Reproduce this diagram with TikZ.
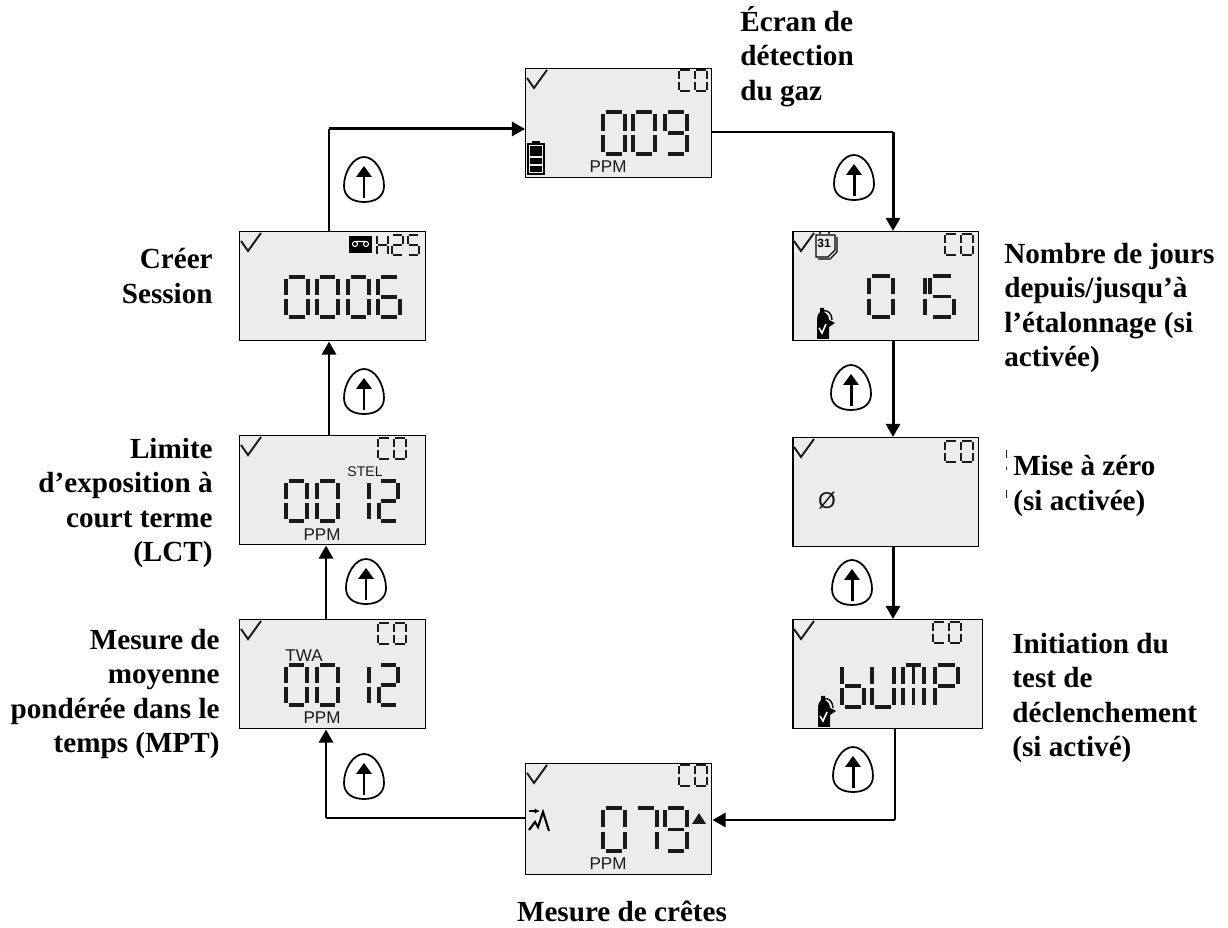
\documentclass[tikz,border=0pt]{standalone}
\usepackage{fontspec}
\setmainfont{Liberation Serif}
\newfontfamily\lcdfont{Liberation Sans}
\usetikzlibrary{arrows.meta}
\definecolor{lcdgray}{HTML}{ECECEC}
\definecolor{lcdink}{HTML}{1A1A1A}

% segments of one LCD character, in a unit square
\newcommand{\sega}{\draw[lcdseg] (.12,0) -- (.88,0);}
\newcommand{\segb}{\draw[lcdseg] (1,.05) -- (1,.45);}
\newcommand{\segc}{\draw[lcdseg] (1,.55) -- (1,.95);}
\newcommand{\segd}{\draw[lcdseg] (.12,1) -- (.88,1);}
\newcommand{\sege}{\draw[lcdseg] (0,.55) -- (0,.95);}
\newcommand{\segf}{\draw[lcdseg] (0,.05) -- (0,.45);}
\newcommand{\segg}{\draw[lcdseg] (.12,.5) -- (.88,.5);}
\newcommand{\segm}{\draw[lcdseg] (.5,.05) -- (.5,.45);}
\newcommand{\segn}{\draw[lcdseg] (.5,.55) -- (.5,.95);}
\newcommand{\digzero}{a,b,c,d,e,f}
\newcommand{\digone}{b,c}
\newcommand{\digtwo}{a,b,g,e,d}
\newcommand{\digfive}{a,f,g,c,d}
\newcommand{\digsix}{a,f,g,c,d,e}
\newcommand{\digseven}{a,b,c}
\newcommand{\dignine}{a,b,c,d,f,g}
\newcommand{\digC}{a,d,e,f}
\newcommand{\digH}{b,c,e,f,g}
\newcommand{\digb}{c,d,e,f,g}
\newcommand{\digU}{b,c,d,e,f}
\newcommand{\digM}{a,b,c,e,f,m,n}
\newcommand{\digP}{a,b,e,f,g}
% [line width] x, y, width, height, segment list
\newcommand{\lcd}[6][1.9pt]{
	\begin{scope}[shift={(#2,#3)}, xscale=#4, yscale=#5, line width=#1]
		\foreach \s in #6 {\csname seg\s\endcsname}
	\end{scope}
}
\newcommand{\lcdCO}[2]{
	\lcd[1pt]{#1}{#2}{12}{21}{\digC}
	\lcd[1pt]{#1+16}{#2}{12}{21}{\digzero}
}

\tikzset{
	lcdseg/.style={draw=lcdink, line cap=butt},
	lcdbox/.style={draw=black, fill=lcdgray, line width=0.85pt, anchor=north west, inner sep=0pt, minimum width=3.72cm, minimum height=2.18cm},
	lcdtext/.style={font=\lcdfont\fontsize{9.7}{11}\selectfont, text=lcdink, inner sep=0pt},
	caption/.style={font=\fontsize{16.6}{19.5}\selectfont\bfseries, inner sep=0pt},
	wirethin/.style={draw=black, line width=0.85pt},
	wirethick/.style={draw=black, line width=1.7pt},
	tip/.style={-{Triangle[length=7.5pt,width=8pt]}},
	tick/.pic={\draw[line width=1.1pt, lcdink] (2,10) -- (9,20) -- (22,2);},
	upkey/.pic={
		\draw[line width=1pt, fill=white] (0,-23) .. controls (11,-23) and (20,-8) .. (20,6) .. controls (20,17) and (11,22) .. (0,22) .. controls (-11,22) and (-20,17) .. (-20,6) .. controls (-20,-8) and (-11,-23) .. (0,-23) -- cycle;
		\draw[line width=1.7pt] (0,18) -- (0,-4);
		\fill (0,-14) -- (8,-3) -- (-8,-3) -- cycle;
	},
	bottle/.pic={
		\draw[line width=0.8pt] (6,4) .. controls (12,2) and (16,7) .. (16,13);
		\fill[black] (1,13) .. controls (1,8) and (3,6) .. (4,5) -- (4,1) -- (8,1) -- (8,5) .. controls (11,7) and (13,9) .. (13,13) -- (13,32) -- (1,32) -- cycle;
		\fill[black] (13,13) -- (19,16) -- (13,20) -- cycle;
		\draw[white, line width=0.9pt] (3,21) -- (6,26) -- (10,17);
	},
}

\begin{document}
\begin{tikzpicture}[x=0.02cm, y=-0.02cm]
	\useasboundingbox (0,0) rectangle (1228,928);

	% boxes of the screens
	\node[lcdbox] (gas) at (525,68) {};
	\node[lcdbox] (days) at (792,231) {};
	\node[lcdbox] (zero) at (792,437) {};
	\node[lcdbox, minimum width=3.8cm] (bump) at (792,619) {};
	\node[lcdbox, minimum height=2.22cm] (peak) at (525,763) {};
	\node[lcdbox] (twa) at (239,619) {};
	\node[lcdbox] (stel) at (239,435) {};
	\node[lcdbox] (session) at (239,231) {};

	% check marks
	\foreach \b in {gas,days,zero,bump,peak,twa,stel,session}
		\pic at (\b.north west) {tick};

	% screen of gas detection
	\lcdCO{679}{70}
	\lcd{603}{112}{22}{42}{\digzero}
	\lcd{633}{112}{22}{42}{\digzero}
	\lcd{665}{112}{22}{42}{\dignine}
	\node[lcdtext] (gasppm) at (608,167) {PPM};
	\draw[line width=0.8pt] (528,144) rectangle (544,174);
	\fill (532,141) rectangle (540,144);
	\fill (530,146) rectangle (542,156);
	\fill (530,158) rectangle (542,164);
	\fill (530,166) rectangle (542,172);

	% screen of days
	\lcdCO{945}{234}
	\lcd{869}{276}{24}{41}{\digzero}
	\lcd{901}{276}{24}{41}{\digone}
	\lcd{930}{276}{24}{41}{\digfive}
	\pic at (816,307) {bottle};
	\draw[line width=0.8pt] (816,235) -- (835,235) -- (835,250) -- (828,257) -- (816,257) -- cycle;
	\draw[line width=0.8pt] (837,237) -- (837,252) -- (830,259) -- (818,259);
	\fill (820,233) circle (1.2) (829,233) circle (1.2);
	\node[font=\lcdfont\bfseries\fontsize{6.8}{7}\selectfont, inner sep=0pt] (cal) at (824,243) {31};

	% screen of zeroing
	\lcdCO{945}{441}
	\node[lcdtext, font=\lcdfont\fontsize{13}{14}\selectfont] (zerosign) at (827,501) {Ø};
	\draw[lcdink, line width=0.5pt] (1006,450) -- (1006,458) (1006,467) -- (1006,470) (1006,490) -- (1006,498);

	% screen of bump test
	\lcdCO{933}{622}
	\lcd{842}{665}{22}{42}{\digb}
	\lcd{872}{665}{22}{42}{\digU}
	\lcd{903}{665}{21}{42}{\digM}
	\lcd{935}{665}{23}{42}{\digP}
	\pic at (817,695) {bottle};

	% screen of peak
	\lcdCO{679}{765}
	\lcd{603}{808}{22}{43}{\digzero}
	\lcd{635}{808}{22}{43}{\digseven}
	\lcd{665}{808}{22}{43}{\dignine}
	\node[lcdtext] (peakppm) at (608,864) {PPM};
	\fill[lcdink] (692,824) -- (699,813) -- (706,824) -- cycle;
	\draw[line width=1.2pt] (529,830) -- (535,822) -- (538,827) -- (543,812) -- (549,831);
	\draw[line width=0.8pt, -{Latex[length=3pt,width=3pt]}] (529,811) -- (540,811);

	% screen of TWA
	\lcdCO{378}{623}
	\lcd{286}{665}{21}{40}{\digzero}
	\lcd{317}{665}{21}{40}{\digzero}
	\lcd{364}{665}{5}{40}{\digone}
	\lcd{379}{665}{19}{40}{\digtwo}
	\node[lcdtext] (twatext) at (304,656) {TWA};
	\node[lcdtext] (twappm) at (322,718) {PPM};

	% screen of STEL
	\lcdCO{378}{438}
	\lcd{286}{481}{21}{40}{\digzero}
	\lcd{317}{481}{21}{40}{\digzero}
	\lcd{364}{481}{5}{40}{\digone}
	\lcd{379}{481}{19}{40}{\digtwo}
	\node[lcdtext, font=\lcdfont\fontsize{8}{9}\selectfont] (steltext) at (365,472) {STEL};
	\node[lcdtext] (stelppm) at (322,535) {PPM};

	% screen of session
	\fill[black] (349,236) rectangle (372,253);
	\draw[white, line width=0.6pt] (355,244) circle (2.5) (366,244) circle (2.5) (355,241.5) -- (366,241.5);
	\lcd[1pt]{377}{235}{11}{20}{\digH}
	\lcd[1pt]{392}{235}{11}{20}{\digtwo}
	\lcd[1pt]{408}{235}{11}{20}{\digfive}
	\lcd{286}{277}{22}{40}{\digzero}
	\lcd{317}{277}{21}{40}{\digzero}
	\lcd{348}{277}{21}{40}{\digzero}
	\lcd{378}{277}{22}{40}{\digsix}

	% connectors
	\coordinate (topleft) at (329,129);
	\coordinate (topright) at (893,132);
	\coordinate (lowright) at (895,820);
	\coordinate (lowleft) at (326,818);
	\draw[wirethin] (topleft |- session.north) -- (topleft);
	\draw[wirethick, tip] (topleft) -- (topleft -| gas.west);
	\draw[wirethin] (topright -| gas.east) -- (topright);
	\draw[wirethick, tip] (topright) -- (topright |- days.north);
	\draw[wirethick, tip] (topright |- days.south) -- (topright |- zero.north);
	\draw[wirethick, tip] (topright |- zero.south) -- (topright |- bump.north);
	\draw[wirethin] (lowright |- bump.south) -- (lowright);
	\draw[wirethick, tip] (lowright) -- (lowright -| peak.east);
	\draw[wirethin] (lowleft -| peak.west) -- (lowleft);
	\draw[wirethick, tip] (lowleft) -- (lowleft |- twa.south);
	\draw[wirethick, tip] (lowleft |- twa.north) -- (lowleft |- stel.south);
	\draw[wirethick, tip] (topleft |- stel.north) -- (topleft |- session.south);

	% keys with the up arrow
	\pic at (854,178) {upkey};
	\pic at (851,388) {upkey};
	\pic at (852,583) {upkey};
	\pic at (853,770) {upkey};
	\pic at (364,777) {upkey};
	\pic at (366,582) {upkey};
	\pic at (364,392) {upkey};
	\pic at (364,180) {upkey};

	% captions
	\node[caption, align=left, anchor=west] (capgas) at (740,56.5) {Écran de\\détection\\du gaz};
	\node[caption, align=left, anchor=west] (capdays) at (1004,308) {Nombre de jours\\depuis/jusqu’à\\l’étalonnage (si\\activée)};
	\node[caption, align=left, anchor=west] (capzero) at (1013,486) {Mise à zéro\\(si activée)};
	\node[caption, align=left, anchor=west] (capbump) at (1012,698) {Initiation du\\test de\\déclenchement\\(si activé)};
	\node[caption] (cappeak) at (622,911) {Mesure de crêtes};
	\node[caption, align=right, anchor=east] (captwa) at (220,694) {Mesure de\\moyenne\\pondérée dans le\\temps (MPT)};
	\node[caption, align=right, anchor=east] (capstel) at (213,503) {Limite\\d’exposition à\\court terme\\(LCT)};
	\node[caption, align=right, anchor=east] (capsession) at (213,276) {Créer\\Session};
\end{tikzpicture}
\end{document}
